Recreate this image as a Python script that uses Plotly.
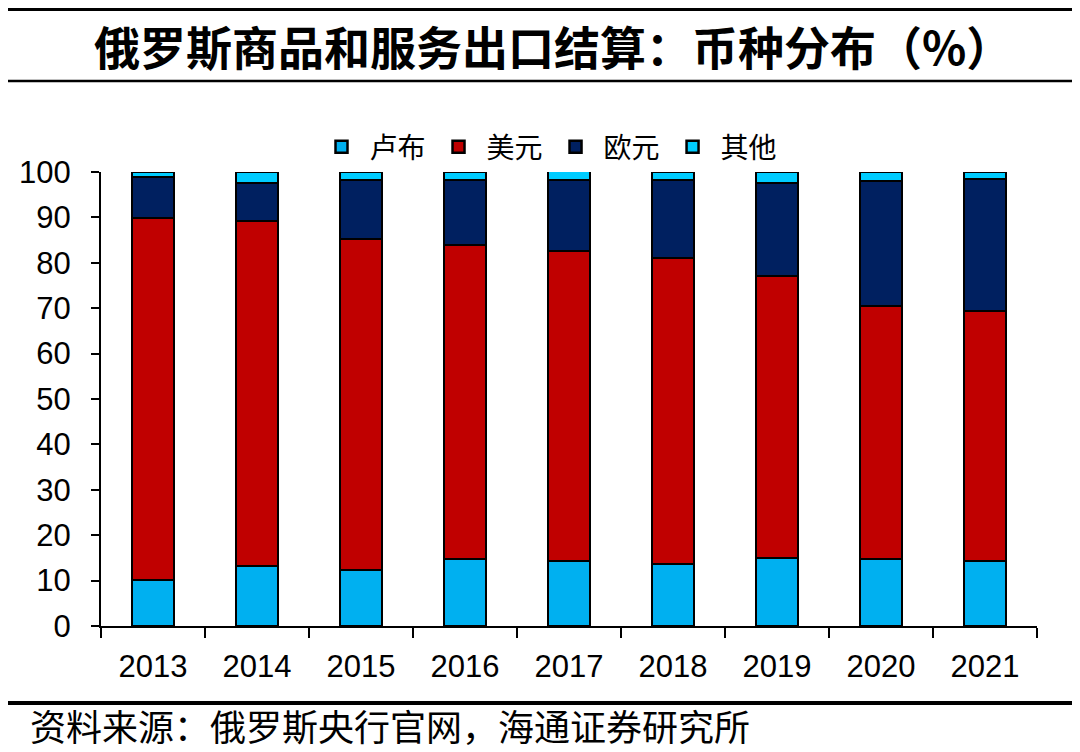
import plotly.graph_objects as go

years = ["2013", "2014", "2015", "2016", "2017", "2018", "2019", "2020", "2021"]
rub = [10.1, 13.2, 12.3, 14.8, 14.3, 13.7, 15.0, 14.8, 14.3]
usd = [79.8, 76.0, 72.9, 69.1, 68.3, 67.4, 62.1, 55.7, 55.1]
eur = [9.0, 8.4, 13.0, 14.3, 15.6, 17.1, 20.5, 27.5, 29.1]
other = [1.1, 2.4, 1.8, 1.8, 2.0, 1.8, 2.4, 2.0, 1.5]

series = [("卢布", rub, "#00B0F0"), ("美元", usd, "#C00000"),
          ("欧元", eur, "#002060"), ("其他", other, "#00CCFF")]

fig = go.Figure()
for name, vals, col in series:
    fig.add_trace(go.Bar(x=years, y=vals, name=name,
                         marker=dict(color=col, line=dict(color="black", width=2.5))))

OFF = 8  # page body margin
W, H = 1080, 744
L, R, T, B = 101 - OFF, 1037 - OFF, 172 - OFF, 626 - OFF
pw, ph = R - L, B - T

def px(x):
    return (x - OFF - L) / pw

def py(y):
    return (B - (y - OFF)) / ph

fig.update_layout(
    width=W, height=H, barmode="stack", bargap=0.6,
    margin=dict(l=L, r=W - R, t=T, b=H - B),
    plot_bgcolor="white", paper_bgcolor="white",
    font=dict(family="Liberation Sans, Arial", size=31, color="black"),
    showlegend=True,
    legend=dict(orientation="h", x=px(548), xanchor="center", y=py(147), yanchor="middle",
                font=dict(family="Noto Sans CJK SC", size=28), traceorder="normal",
                itemwidth=46, bgcolor="rgba(0,0,0,0)"),
    xaxis=dict(type="category", showline=True, linecolor="black", linewidth=2,
               ticks="outside", tickson="boundaries", ticklen=10, tickwidth=2, tickcolor="black",
               tickfont=dict(size=31), showgrid=False, ticklabelstandoff=12),
    yaxis=dict(range=[0, 100], dtick=10, showline=True, linecolor="black", linewidth=2,
               ticks="outside", ticklen=8, tickwidth=2, tickcolor="black",
               tickfont=dict(size=31), showgrid=False, zeroline=False, ticklabelstandoff=14),
)

shapes = [
    dict(type="line", xref="paper", yref="paper", x0=px(3), x1=px(1088), y0=py(9.6), y1=py(9.6),
         line=dict(color="black", width=3)),
    dict(type="line", xref="paper", yref="paper", x0=px(3), x1=px(1088), y0=py(81), y1=py(81),
         line=dict(color="black", width=2.5)),
    dict(type="line", xref="paper", yref="paper", x0=px(3), x1=px(1088), y0=py(703), y1=py(703),
         line=dict(color="black", width=4)),
]
fig.update_layout(shapes=shapes)

fig.add_annotation(text="<b>俄罗斯商品和服务出口结算：币种分布（%）</b>", xref="paper", yref="paper",
                   x=px(553), y=py(45), xanchor="center", yanchor="middle", showarrow=False,
                   font=dict(family="Noto Sans CJK SC", size=46, color="black"))
fig.add_annotation(text="资料来源：俄罗斯央行官网，海通证券研究所", xref="paper", yref="paper",
                   x=px(28), y=py(725), xanchor="left", yanchor="middle", showarrow=False,
                   font=dict(family="Noto Sans CJK SC", size=36, color="black"))

fig.write_html("out.html")
